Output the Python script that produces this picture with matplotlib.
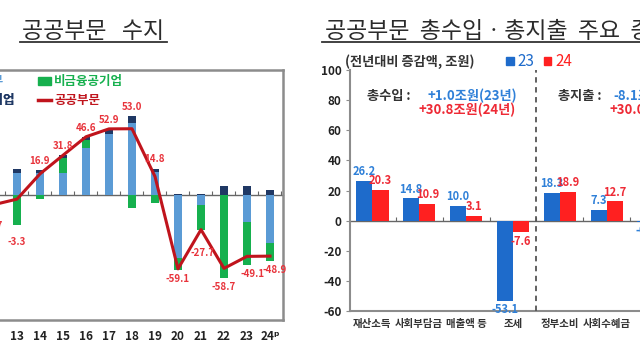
import numpy as np
import matplotlib.pyplot as plt
from matplotlib.patches import Patch
from matplotlib.lines import Line2D

plt.rcParams['font.family'] = ['Noto Sans CJK KR', 'DejaVu Sans']
plt.rcParams['axes.unicode_minus'] = False

# 공공부문 수지 (조원)
years = [12, 13, 14, 15, 16, 17, 18, 19, 20, 21, 22, 23, 24]
year_labels = ['12', '13', '14', '15', '16', '17', '18', '19', '20', '21', '22', '23', '24ᵖ']
gov = [8.0, 17.5, 17.5, 17.8, 37.6, 48.9, 57.4, 18.2, -50.5, -8.2, 0.0, -21.5, -38.4]       # 일반정부
nonfin = [-17.7, -23.8, -3.0, 12.0, 6.6, 0.0, -10.0, -6.4, -9.6, -20.0, -66.0, -34.6, -14.5]  # 비금융공기업
fin = [2.0, 3.0, 2.4, 2.0, 2.4, 4.0, 5.6, 3.0, 1.0, 0.5, 7.3, 7.0, 4.0]                       # 금융공기업
public = [-7.7, -3.3, 16.9, 31.8, 46.6, 52.9, 53.0, 14.8, -59.1, -27.7, -58.7, -49.1, -48.9]  # 공공부문

# 총수입·총지출 주요 항목 증감 (전년대비, 조원)
items = ['재산소득', '사회부담금', '매출액 등', '조세', '정부소비', '사회수혜금', '기타']
val23 = [26.2, 14.8, 10.0, -53.1, 18.3, 7.3, -0.6]
val24 = [20.3, 10.9, 3.1, -7.6, 18.9, 12.7, 1.0]

c_gov, c_nonfin, c_fin, c_line = '#5B9BD5', '#16B04E', '#1F3864', '#C0141C'
c_b23, c_r24 = '#1E6BCB', '#FF2020'
c_t23, c_t24 = '#2F80D8', '#EE2A35'
frame = '#8C8C8C'

fig = plt.figure(figsize=(6.4, 3.6), dpi=100)
fx = lambda p: p / 640
fy = lambda p: 1 - p / 360

# ---------- 왼쪽: 공공부문 수지 ----------
ax1 = fig.add_axes([fx(-20), fy(320), (283 + 20) / 640, (320 - 70) / 360])
x = np.array(years, dtype=float)
comps = [np.array(gov), np.array(nonfin), np.array(fin)]
cols = [c_gov, c_nonfin, c_fin]
pos_base = np.zeros(len(x))
neg_base = np.zeros(len(x))
for v, c in zip(comps, cols):
    p = np.where(v > 0, v, 0)
    n = np.where(v < 0, v, 0)
    ax1.bar(x, p, 0.35, bottom=pos_base, color=c, zorder=2)
    ax1.bar(x, n, 0.35, bottom=neg_base, color=c, zorder=2)
    pos_base += p
    neg_base += n
ax1.plot(x, public, color=c_line, lw=2.2, zorder=4)

extra = {13: (0, -6), 21: (1, -10), 23: (4, 0), 24: (3, 0)}
for xi, v, top, bot in zip(years, public, pos_base, neg_base):
    dx, dy = extra.get(xi, (0, 0))
    if v > 0:
        ax1.annotate(f'{v:.1f}', (xi, top), xytext=(dx, 3 + dy), textcoords='offset points',
                     ha='center', va='bottom', fontsize=7, fontweight='bold', color='#E8333B', zorder=5)
    else:
        ax1.annotate(f'{v:.1f}', (xi, bot), xytext=(dx, -3 + dy), textcoords='offset points',
                     ha='center', va='top', fontsize=7, fontweight='bold', color='#E8333B', zorder=5)

ax1.set_xlim(24 - 290 / 23, 24 + 13 / 23)
ax1.set_ylim(-100, 100)
ax1.set_yticks([])
ax1.set_xticks(years, year_labels)
ax1.tick_params(axis='x', length=0, pad=7, labelsize=8.5, labelcolor='#222222')
for lab in ax1.get_xticklabels():
    lab.set_fontweight('bold')
ax1.get_xticklabels()[0].set_visible(False)  # 12년 라벨은 원본에서 잘려 보이지 않음
for s in ax1.spines.values():
    s.set_color(frame)
    s.set_linewidth(1.8)
zero1 = ax1.secondary_xaxis(0.5)
zero1.set_xticks(np.arange(years[0] - 0.5, years[-1] + 1, 1.0))
zero1.tick_params(direction='out', length=3, color='#666666', labeltop=False, labelbottom=False)
for s in zero1.spines.values():
    s.set_color('#666666')
    s.set_linewidth(1.0)

leg_kw = dict(frameon=False, borderpad=0, borderaxespad=0, handlelength=1.0, handleheight=0.6,
              handletextpad=0.3, labelspacing=0.5, prop={'size': 9, 'weight': 'bold'})
leg_a = fig.legend(handles=[Patch(color=c_gov), Patch(color=c_fin)], labels=['일반정부', '금융공기업'],
                   loc='upper right', bbox_to_anchor=(fx(15), fy(75)), labelcolor=[c_gov, c_fin], **leg_kw)
leg_b = fig.legend(handles=[Patch(color=c_nonfin), Line2D([], [], color=c_line, lw=2.5)],
                   labels=['비금융공기업', '공공부문'], loc='upper left', bbox_to_anchor=(fx(38), fy(75)),
                   labelcolor=[c_nonfin, c_line], **leg_kw)
fig.add_artist(leg_a)

# ---------- 오른쪽: 총수입·총지출 주요 항목 ----------
ax2 = fig.add_axes([fx(350), fy(311), (676 - 350) / 640, (311 - 70) / 360])
xi = np.arange(len(items))
w = 0.35
b1 = ax2.bar(xi - w / 2, val23, w, color=c_b23, zorder=2)
b2 = ax2.bar(xi + w / 2, val24, w, color=c_r24, zorder=2)
for bars, vals, col in [(b1, val23, c_t23), (b2, val24, c_t24)]:
    for r, v in zip(bars, vals):
        cx = r.get_x() + r.get_width() / 2
        ax2.annotate(f'{v:.1f}', (cx, v), xytext=(0, 2 if v >= 0 else -2), textcoords='offset points',
                     ha='center', va='bottom' if v >= 0 else 'top', fontsize=8, fontweight='bold',
                     color=col, zorder=5)
ax2.axvline(3.5, color='#555555', ls=(0, (3, 2.5)), lw=1.3, zorder=3)
ax2.set_xlim(-0.47, len(items) - 0.53)
ax2.set_ylim(-60, 100)
ax2.set_yticks(range(-60, 101, 20))
ax2.set_xticks(xi, items)
ax2.tick_params(axis='x', length=0, pad=6, labelsize=7.5, labelcolor='#333333')
ax2.tick_params(axis='y', length=3, color=frame, pad=3, labelsize=8.5, labelcolor='#222222')
for lab in ax2.get_xticklabels() + ax2.get_yticklabels():
    lab.set_fontweight('bold')
ax2.spines['top'].set_visible(False)
ax2.spines['right'].set_visible(False)
for s in ['left', 'bottom']:
    ax2.spines[s].set_color(frame)
    ax2.spines[s].set_linewidth(1.5)
zero2 = ax2.secondary_xaxis(60 / 160)
zero2.set_xticks(np.arange(-0.5, len(items), 1.0))
zero2.tick_params(direction='in', length=3, color='#666666', labeltop=False, labelbottom=False)
for s in zero2.spines.values():
    s.set_color('#666666')
    s.set_linewidth(1.0)

ax2.text(-0.1, 83, '총수입 :', fontsize=9.5, fontweight='bold', color='#333333', va='center')
ax2.text(1.17, 83, '+1.0조원(23년)', fontsize=9.5, fontweight='bold', color=c_t23, va='center')
ax2.text(0.98, 73.5, '+30.8조원(24년)', fontsize=9.5, fontweight='bold', color=c_t24, va='center')
ax2.text(3.96, 83, '총지출 :', fontsize=9.5, fontweight='bold', color='#333333', va='center')
ax2.text(5.13, 83, '-8.1조원(23년)', fontsize=9.5, fontweight='bold', color=c_t23, va='center')
ax2.text(5.06, 73.5, '+30.0조원(24년)', fontsize=9.5, fontweight='bold', color=c_t24, va='center')

fig.text(fx(345), fy(62), '(전년대비 증감액, 조원)', fontsize=9.5, fontweight='bold', color='#333333', va='center')
fig.legend(handles=[Patch(color=c_b23), Patch(color=c_r24)], labels=['23', '24'], ncol=2,
           loc='center left', bbox_to_anchor=(fx(506), fy(62)), frameon=False, borderpad=0,
           borderaxespad=0, handlelength=0.5, handleheight=0.5, handletextpad=0.25,
           columnspacing=0.6, prop={'size': 11}, labelcolor=[c_b23, c_r24])

# ---------- 제목 ----------
fig.text(fx(22), fy(31), '공공부문   수지', fontsize=16.5, color='#2b2b2b', va='center')
fig.text(fx(325), fy(31), '공공부문  총수입ㆍ총지출  주요  증감', fontsize=16.5, color='#2b2b2b', va='center')
fig.add_artist(Line2D([fx(20), fx(167)], [fy(42), fy(42)], color='#333333', lw=1.3))
fig.add_artist(Line2D([fx(322), fx(660)], [fy(42), fy(42)], color='#333333', lw=1.3))

fig.savefig('out.png', dpi=100)
